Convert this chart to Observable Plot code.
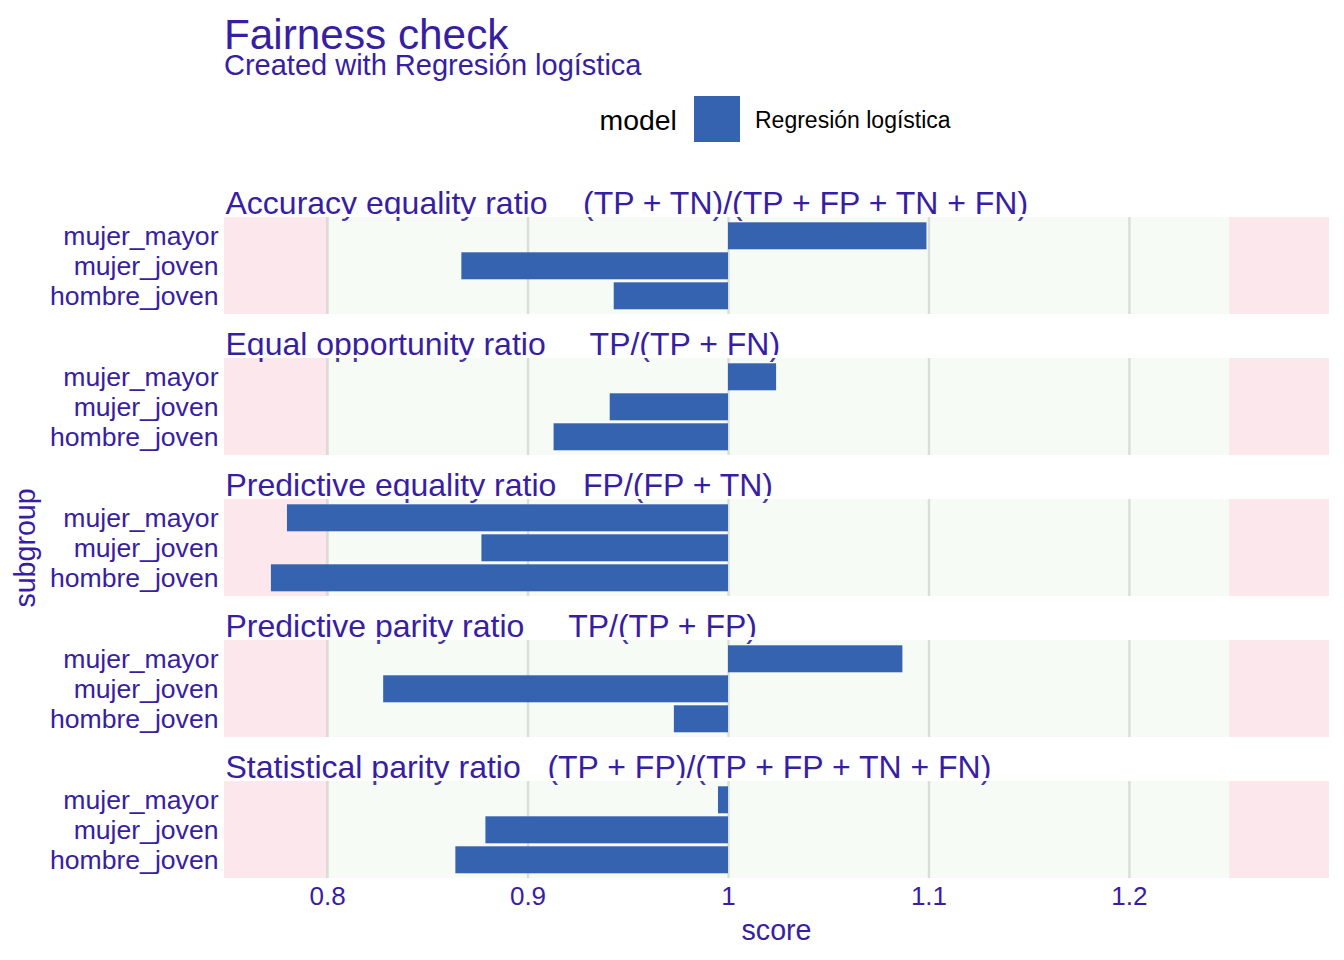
<!DOCTYPE html>
<html>
<head>
<meta charset="utf-8">
<script src="https://cdn.jsdelivr.net/npm/d3@7"></script>
<script src="https://cdn.jsdelivr.net/npm/@observablehq/plot@0.6"></script>
<style>
  html, body { margin: 0; padding: 0; background: #fff; }
  #root { position: relative; width: 1344px; height: 960px; overflow: hidden;
          font-family: "Liberation Sans", Arial, Helvetica, sans-serif; }
  .t { position: absolute; line-height: 0.8; white-space: pre; }
  #chart { position: absolute; left: 0; top: 160px; }
  #chart svg text { white-space: pre; }
</style>
</head>
<body>
<div id="root">
  <div class="t" style="left:224px; top:18.2px; font-size:42.3px; color:#371EA3;">Fairness check</div>
  <div class="t" style="left:224px; top:54.4px; font-size:29px; color:#371EA3;">Created with Regresión logística</div>
  <div class="t" style="left:599.5px; top:108.8px; font-size:28.4px; color:#000;">model</div>
  <div style="position:absolute; left:694px; top:96px; width:46px; height:46px; background:#3563b0;"></div>
  <div class="t" style="left:755px; top:111.1px; font-size:23px; color:#000;">Regresión logística</div>
  <div class="t" style="left:776.5px; top:918.6px; font-size:28.6px; color:#371EA3; transform:translateX(-50%);">score</div>
  <div class="t" style="left:25px; top:547.5px; font-size:28.6px; color:#371EA3; transform:translate(-50%,-50%) rotate(-90deg);">subgroup</div>
  <div id="chart"></div>
</div>
<script>
// ---- data ----
const metrics = [
  "Accuracy equality ratio    (TP + TN)/(TP + FP + TN + FN)",
  "Equal opportunity ratio     TP/(TP + FN)",
  "Predictive equality ratio   FP/(FP + TN)",
  "Predictive parity ratio     TP/(TP + FP)",
  "Statistical parity ratio   (TP + FP)/(TP + FP + TN + FN)"
];
const subgroups = ["mujer_mayor", "mujer_joven", "hombre_joven"];
const accuracyScores     = [1.099, 0.867, 0.943];
const equalOppScores     = [1.024, 0.941, 0.913];
const predEqualityScores = [0.780, 0.877, 0.772];
const predParityScores   = [1.087, 0.828, 0.973];
const statParityScores   = [0.995, 0.879, 0.864];
const xTicks = [0.8, 0.9, 1, 1.1, 1.2];
const xDomain = [0.7486, 1.2998];
const fairLow = 0.8, fairHigh = 1.25, baseline = 1;

const seriesByMetric = [accuracyScores, equalOppScores, predEqualityScores, predParityScores, statParityScores];
const rows = [];
metrics.forEach((m, i) => subgroups.forEach((s, j) => rows.push({metric: m, subgroup: s, score: seriesByMetric[i][j]})));

const zones = [
  {x1: xDomain[0], x2: fairLow, fill: "#e8324f", op: 0.11},
  {x1: fairLow, x2: fairHigh, fill: "#b5e3ad", op: 0.12},
  {x1: fairHigh, x2: xDomain[1], fill: "#e8324f", op: 0.11}
];

const ink = "#371EA3";
const chart = Plot.plot({
  width: 1344,
  height: 800,
  marginTop: 55.7,
  marginBottom: 80.7,
  marginLeft: 224,
  marginRight: 15,
  style: {fontFamily: "'Liberation Sans', Arial, Helvetica, sans-serif", color: ink, background: "transparent", overflow: "visible"},
  x: {domain: xDomain, label: null},
  y: {domain: subgroups, paddingInner: 0.1, paddingOuter: 0.155, label: null},
  fy: {domain: metrics, paddingInner: 0.315, paddingOuter: 0, axis: null, label: null},
  marks: [
    Plot.text(metrics, {fy: d => d, text: d => d, frameAnchor: "top-left", textAnchor: "start",
                        lineAnchor: "bottom", dy: -3.5, dx: 1, fontSize: 32, fill: ink}),
    Plot.rect([0], {x1: () => xDomain[0], x2: () => xDomain[1], insetTop: -3.0, insetBottom: 97.03, fill: "#fff"}),
    Plot.ruleX(xTicks, {stroke: "#dedede", strokeWidth: 2.4}),
    Plot.rect(zones, {x1: "x1", x2: "x2", fill: "fill", fillOpacity: "op"}),
    Plot.barX(rows, {fy: "metric", y: "subgroup", x1: () => baseline, x2: "score", fill: "#3563b0"}),
    Plot.axisX({ticks: xTicks, tickFormat: d => String(d), tickSize: 0, tickPadding: 8, fontSize: 26, fill: ink, label: null}),
    Plot.axisY({tickSize: 0, tickPadding: 6, fontSize: 26.6, fill: ink, label: null})
  ]
});
document.getElementById("chart").appendChild(chart);
</script>
</body>
</html>
